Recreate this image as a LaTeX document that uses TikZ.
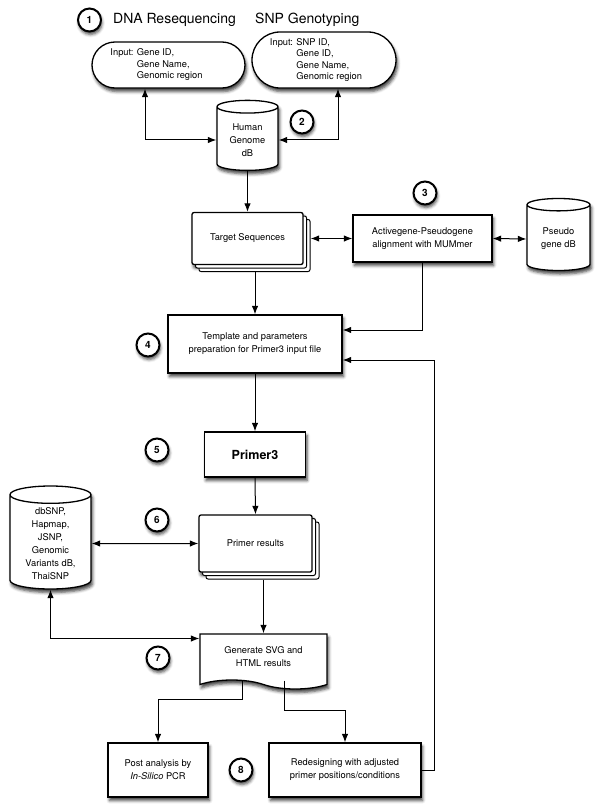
\documentclass[tikz,border=0pt]{standalone}
\usepackage{fontspec}
\setmainfont{TeX Gyre Heros}
\usetikzlibrary{positioning,arrows.meta,shapes.geometric,shapes.misc,shapes.symbols,shadows,shadows.blur}

\begin{document}
\begin{tikzpicture}[
        x=1pt, y=-1pt,
        >={Latex[length=3mm, width=2.3mm]},
        base/.style={draw=black, fill=white, line width=1.3pt, align=center, inner sep=2pt,
            font=\fontsize{9.3}{13}\selectfont,
            blur shadow={shadow xshift=1.5pt, shadow yshift=-3.5pt, shadow blur radius=3pt, shadow opacity=75}},
        box/.style={base, rectangle},
        stack/.style={base, rectangle, rounded corners=2pt,
            double copy shadow={shadow xshift=3.5pt, shadow yshift=-3.5pt, fill=white, draw=black, line width=1pt}},
        db/.style={base, cylinder, shape border rotate=90, aspect=0.32},
        inp/.style={base, rounded rectangle, font=\fontsize{9.3}{11.5}\selectfont},
        doc/.style={base, tape, tape bend top=none, tape bend bottom=out and in, tape bend height=9pt},
        num/.style={circle, draw=black, fill=white, line width=2pt, minimum size=23pt, inner sep=0pt,
            font=\bfseries\fontsize{10}{12}\selectfont,
            blur shadow={shadow xshift=1pt, shadow yshift=-3pt, shadow blur radius=3pt, shadow opacity=70}},
        head/.style={anchor=west, inner sep=0pt, font=\fontsize{14}{16}\selectfont},
        arrow/.style={->, line width=1pt},
        dbl/.style={<->, line width=1pt}
    ]
    \useasboundingbox (0,0) rectangle (600,811);

    % inputs
    \node[num] (c1) at (89.5,20) {1};
    \node[head] (h1) at (113,20) {DNA Resequencing};
    \node[head] (h2) at (255,20) {SNP Genotyping};
    \node[inp, minimum width=157pt, minimum height=46pt] (in1) at (168.5,65)
        {\begin{tabular}{@{}l@{ }l@{\hspace{24pt}}}Input: & Gene ID,\\ & Gene Name,\\ & Genomic region\end{tabular}};
    \node[inp, minimum width=148pt, minimum height=56pt] (in2) at (324,60)
        {\begin{tabular}{@{}l@{ }l@{\hspace{16pt}}}Input: & SNP ID,\\ & Gene ID,\\ & Gene Name,\\ & Genomic region\end{tabular}};

    % genome and pseudogenes
    \node[db, minimum width=61pt, minimum height=70pt] (hg) at (247.5,140) {Human\\Genome\\dB};
    \node[num] (c2) at (302,122) {2};
    \node[stack, minimum width=111pt, minimum height=52pt] (tgt) at (247.5,238.5) {Target Sequences};
    \node[box, minimum width=139pt, minimum height=47pt] (act) at (422.5,238.5) {Activegene-Pseudogene\\alignment with MUMmer};
    \node[num] (c3) at (425,193) {3};
    \node[db, minimum width=63pt, minimum height=72pt] (pg) at (558.5,239) {Pseudo\\gene dB};

    % primer design
    \node[box, minimum width=174pt, minimum height=58pt] (tpl) at (255,344) {Template and parameters\\preparation for Primer3 input file};
    \node[num] (c4) at (148,345) {4};
    \node[box, minimum width=101pt, minimum height=45pt, font=\bfseries\fontsize{12.5}{14}\selectfont] (p3) at (255,454.5) {Primer3};
    \node[num] (c5) at (157,450) {5};
    \node[stack, minimum width=113pt, minimum height=57pt] (pr) at (255.5,543.5) {Primer results};
    \node[num] (c6) at (157,520) {6};
    \node[db, minimum width=81pt, minimum height=103pt] (dbs) at (50.5,543.5) {dbSNP,\\Hapmap,\\JSNP,\\Genomic\\Variants dB,\\ThaiSNP};

    % results
    \node[doc, minimum width=127pt, minimum height=55pt] (gen) at (263.5,657) {Generate SVG and\\HTML results};
    \node[num] (c7) at (158,658) {7};
    \node[box, minimum width=100pt, minimum height=54pt] (post) at (158,770) {Post analysis by\\\textit{In-Silico} PCR};
    \node[box, minimum width=152pt, minimum height=54pt] (red) at (345,770) {Redesigning with adjusted\\primer positions/conditions};
    \node[num] (c8) at (241,770) {8};

    \draw[dbl] ([xshift=-23.5pt]in1.south) |- (hg.west);
    \draw[dbl] ([xshift=14pt]in2.south) |- (hg.east);
    \draw[arrow] (hg.south) -- (tgt.north);
    \draw[dbl, shorten <=7pt] (tgt.east) -- (act.west);
    \draw[dbl] (act.east) -- (pg.west);
    \draw[arrow, shorten <=7pt] (tgt.south -| tpl.north) -- (tpl.north);
    \draw[arrow] (act.south) |- ([yshift=14pt]tpl.east);
    \draw[arrow] (tpl.south) -- (p3.north);
    \draw[arrow] (p3.south) -- (pr.north);
    \draw[dbl] (dbs.east) -- (pr.west);
    \draw[arrow, shorten <=7pt] (pr.south -| gen.north) -- (gen.north);
    \draw[dbl] (dbs.south) |- ([yshift=18.5pt]gen.west);
    \draw[arrow] ([xshift=-21.5pt]gen.south) -- ++(0,19) -| (post.north);
    \draw[arrow] ([xshift=20.5pt]gen.south) -- ++(0,30) -| (red.north);
    \draw[arrow] (red.east) -- ++(13,0) |- ([yshift=-16pt]tpl.east);

    \end{tikzpicture}
\end{document}
